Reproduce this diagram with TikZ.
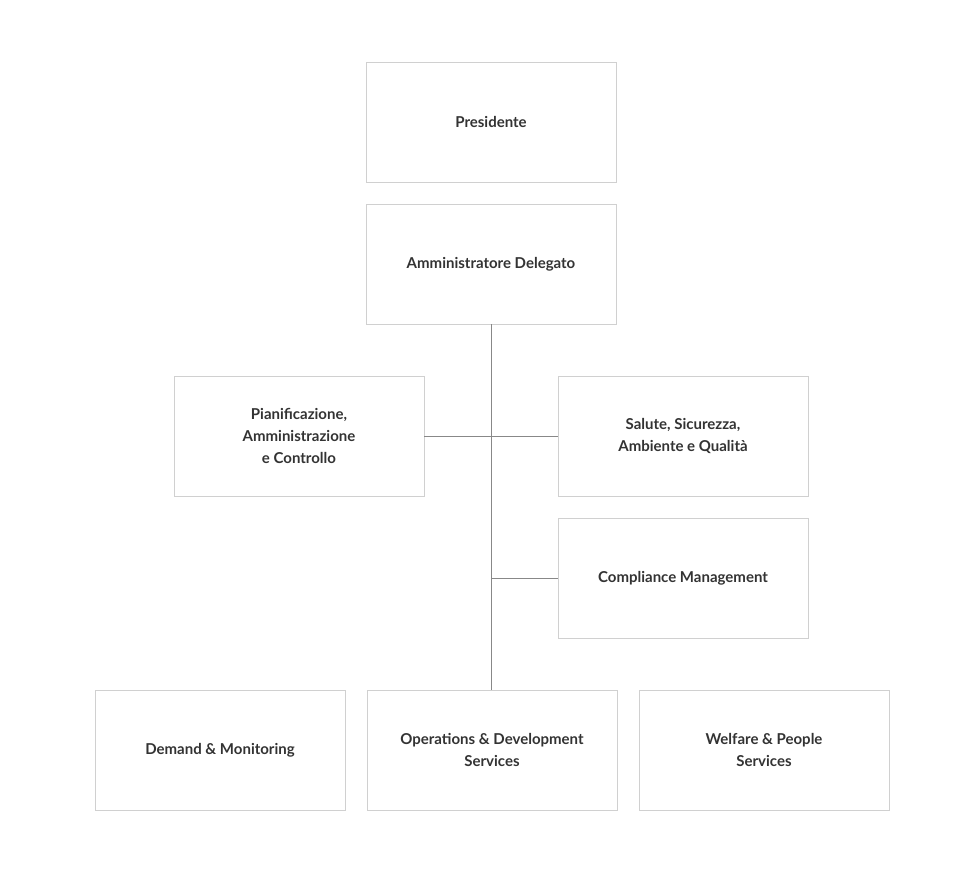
\documentclass[tikz,border=0pt]{standalone}
\usepackage{fontspec}
\setmainfont{Lato}
\definecolor{boxline}{HTML}{D0D0D0}
\definecolor{txt}{HTML}{333333}
\definecolor{conn}{HTML}{888888}
\begin{document}
\begin{tikzpicture}[x=1pt,y=-1pt,
  box/.style={draw=boxline,line width=0.8pt,minimum width=250pt,minimum height=120pt,align=center,text=txt,font=\bfseries\fontsize{15}{22}\selectfont,inner sep=0pt},
  link/.style={draw=conn,line width=0.8pt}]
\useasboundingbox (0,0) rectangle (962,880);
\node[box] (pres) at (491,122) {Presidente};
\node[box] (ad) at (491,264) {Amministratore Delegato};
\node[box] (pian) at (299,436) {Pianificazione,\\Amministrazione\\e Controllo};
\node[box] (sal) at (683,436) {Salute, Sicurezza,\\Ambiente e Qualità};
\node[box] (comp) at (683,578) {Compliance Management};
\node[box] (dem) at (220,750) {Demand \& Monitoring};
\node[box] (ops) at (492,750) {Operations \& Development\\Services};
\node[box] (wel) at (764,750) {Welfare \& People\\Services};
\coordinate (cj) at (491,578);
\draw[link] (ad.south) -- (ad.south |- ops.north);
\draw[link] (pian.east) -- (sal.west);
\draw[link] (cj) -- (comp.west);
\end{tikzpicture}
\end{document}
